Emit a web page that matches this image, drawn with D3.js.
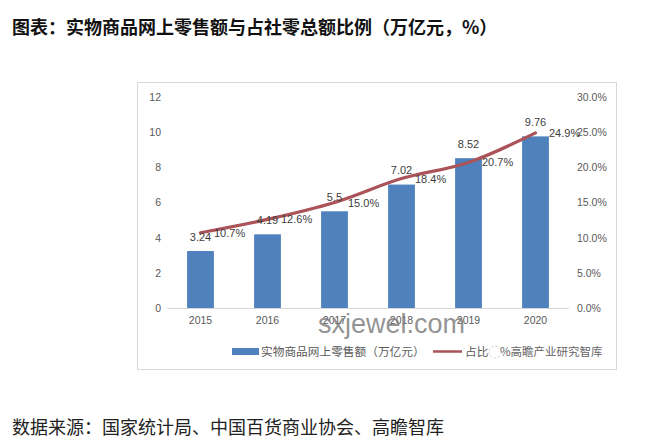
<!DOCTYPE html>
<html>
<head>
<meta charset="utf-8">
<script src="https://d3js.org/d3.v7.min.js"></script>
<style>
    html, body { margin: 0; padding: 0; background: #fff; }
    svg { display: block; }
    text { font-family: "Noto Sans CJK SC", sans-serif; }
</style>
</head>
<body>
<svg id="chart" width="645" height="447"></svg>
<script>
// Chart data
const years = ['2015', '2016', '2017', '2018', '2019', '2020'];
const sales = [3.24, 4.19, 5.5, 7.02, 8.52, 9.76];
const salesLabels = ['3.24', '4.19', '5.5', '7.02', '8.52', '9.76'];
const share = [10.7, 12.6, 15.0, 18.4, 20.7, 24.9];
const leftTicks = [0, 2, 4, 6, 8, 10, 12];
const rightTicks = [0, 5, 10, 15, 20, 25, 30];

const svg = d3.select('#chart');
const latin = '"Liberation Sans", sans-serif';

// Scales
const x = d3.scaleBand().domain(years).range([167, 569]).paddingInner(0.6).paddingOuter(0.3);
const yLeft = d3.scaleLinear().domain([0, 12]).range([308, 97]);
const yRight = d3.scaleLinear().domain([0, 30]).range([308, 97]);
const cx = d => x(d) + x.bandwidth() / 2;

// Title and source
svg.append('text').attr('x', 12).attr('y', 34)
    .attr('font-size', 18).attr('font-weight', 700).attr('fill', '#111')
    .text('图表：实物商品网上零售额与占社零总额比例（万亿元，%）');
svg.append('text').attr('x', 12).attr('y', 434)
    .attr('font-size', 18).attr('fill', '#222')
    .text('数据来源：国家统计局、中国百货商业协会、高瞻智库');

// Chart frame
svg.append('rect').attr('x', 137.5).attr('y', 82.5).attr('width', 479).attr('height', 287)
    .attr('fill', '#fff').attr('stroke', '#d9d9d9');

// Axes
const axisLeft = svg.append('g')
    .attr('transform', 'translate(167,0)')
    .call(d3.axisLeft(yLeft).tickValues(leftTicks).tickSize(0).tickPadding(6));
const axisRight = svg.append('g')
    .attr('transform', 'translate(569,0)')
    .call(d3.axisRight(yRight).tickValues(rightTicks).tickFormat(d => d.toFixed(1) + '%').tickSize(0).tickPadding(8));
const axisBottom = svg.append('g')
    .attr('transform', 'translate(0,308)')
    .call(d3.axisBottom(x).tickSize(0).tickPadding(9));
[axisLeft, axisRight, axisBottom].forEach(a => {
    a.selectAll('text').attr('fill', '#595959').attr('font-size', 10.5)
        .style('font-family', latin);
    a.select('.domain').remove();
});
svg.append('line').attr('x1', 167).attr('x2', 569).attr('y1', 308.5).attr('y2', 308.5)
    .attr('stroke', '#d9d9d9');

// Bars
svg.append('g').selectAll('rect')
    .data(years)
    .enter()
    .append('rect')
    .attr('x', d => x(d))
    .attr('width', x.bandwidth())
    .attr('y', (d, i) => yLeft(sales[i]))
    .attr('height', (d, i) => yLeft(0) - yLeft(sales[i]))
    .attr('fill', '#4f81bd');

// Share line
const line = d3.line()
    .x(d => cx(d.year))
    .y(d => yRight(d.value))
    .curve(d3.curveCatmullRom.alpha(0.5));
svg.append('path')
    .datum(years.map((year, i) => ({ year, value: share[i] })))
    .attr('d', line)
    .attr('fill', 'none')
    .attr('stroke', '#ab5358')
    .attr('stroke-width', 3.2)
    .attr('stroke-linecap', 'round');

// Data labels
svg.append('g').selectAll('text')
    .data(years)
    .enter()
    .append('text')
    .attr('x', d => cx(d))
    .attr('y', (d, i) => yLeft(sales[i]) - 10.5)
    .attr('text-anchor', 'middle')
    .attr('font-size', 11)
    .attr('fill', '#404040')
    .style('font-family', latin)
    .text((d, i) => salesLabels[i]);
svg.append('g').selectAll('text')
    .data(years)
    .enter()
    .append('text')
    .attr('x', d => cx(d) + 13.5)
    .attr('y', (d, i) => yRight(share[i]) + 4)
    .attr('font-size', 11)
    .attr('fill', '#404040')
    .style('font-family', latin)
    .text((d, i) => share[i].toFixed(1) + '%');

// Legend
svg.append('rect').attr('x', 232).attr('y', 348).attr('width', 27).attr('height', 7).attr('fill', '#4f81bd');
svg.append('text').attr('x', 261).attr('y', 356).attr('font-size', 11.7).attr('fill', '#595959')
    .text('实物商品网上零售额（万亿元）');
svg.append('line').attr('x1', 433).attr('x2', 462).attr('y1', 351.5).attr('y2', 351.5)
    .attr('stroke', '#ab5358').attr('stroke-width', 2.5);
svg.append('text').attr('x', 465).attr('y', 356).attr('font-size', 11.7).attr('fill', '#595959')
    .text('占比');

// Watermarks
svg.append('circle').attr('cx', 495).attr('cy', 352).attr('r', 6)
    .attr('fill', '#fff').attr('stroke', '#ccc').attr('stroke-dasharray', '2,2');
svg.append('text').attr('x', 500).attr('y', 356).attr('font-size', 11.5).attr('fill', '#666')
    .text('%高瞻产业研究智库');
svg.append('text').attr('x', 318).attr('y', 333)
    .attr('font-size', 27).attr('fill', '#808080').attr('fill-opacity', 0.85)
    .style('font-family', latin)
    .text('sxjewel.com');
</script>
</body>
</html>
